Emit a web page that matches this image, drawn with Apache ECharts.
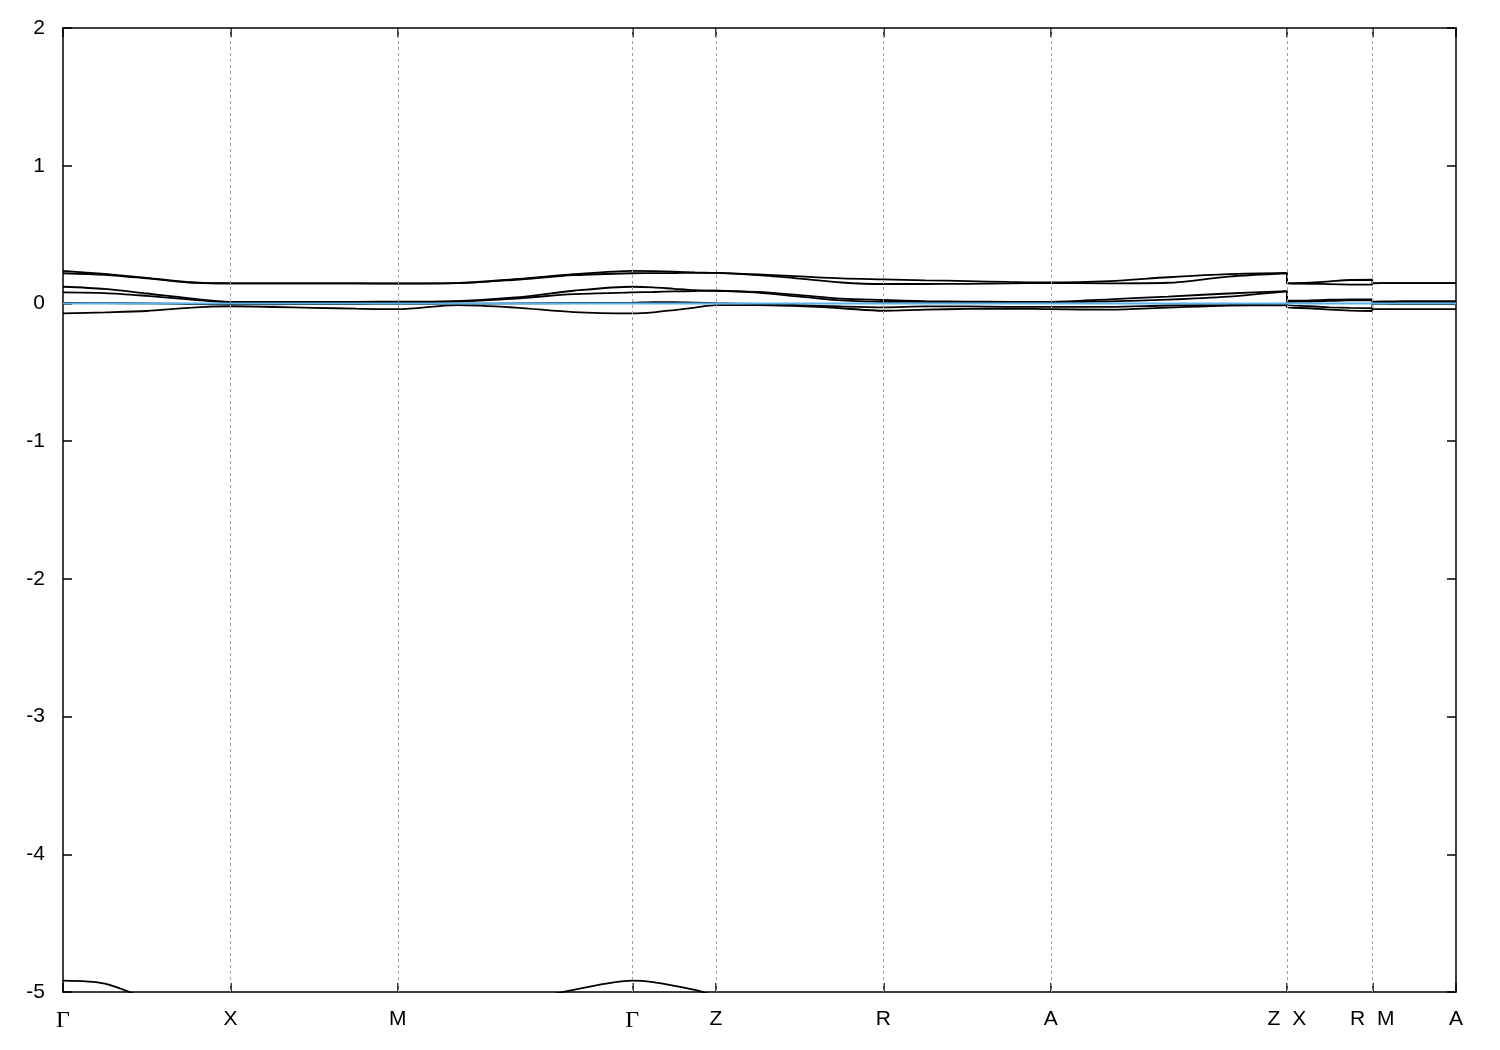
<!DOCTYPE html>
<html>
<head>
<meta charset="utf-8">
<script src="https://cdn.jsdelivr.net/npm/echarts@6/dist/echarts.min.js"></script>
<style>
html,body{margin:0;padding:0;background:#fff;}
#chart{width:1500px;height:1050px;}
</style>
</head>
<body>
<div id="chart"></div>
<script>
// High-symmetry points along the k-path
const kTicks = [0, 1.0, 2.0, 3.4, 3.9, 4.9, 5.9, 7.31, 7.82, 8.32];
const kLabels = ['Γ', 'X', 'M', 'Γ', 'Z', 'R', 'A', 'Z X', 'R M', 'A'];

// k sample positions, one list per path segment
// Γ-X, X-M, M-Γ, Γ-Z, Z-R, R-A, A-Z, X-R, M-A
const kSeg = [
  [0, 0.25, 0.5, 0.75, 1.0],
  [1.0, 1.25, 1.5, 1.75, 2.0],
  [2.0, 2.35, 2.7, 3.05, 3.4],
  [3.4, 3.525, 3.65, 3.775, 3.9],
  [3.9, 4.15, 4.4, 4.65, 4.9],
  [4.9, 5.15, 5.4, 5.65, 5.9],
  [5.9, 6.25, 6.6, 6.96, 7.31],
  [7.31, 7.44, 7.565, 7.69, 7.82],
  [7.82, 7.945, 8.07, 8.195, 8.32]
];

// Band energies (eV) per segment
const bandA = [
  [0.237, 0.214, 0.186, 0.155, 0.146],
  [0.146, 0.146, 0.146, 0.146, 0.146],
  [0.146, 0.148, 0.176, 0.212, 0.237],
  [0.237, 0.235, 0.230, 0.225, 0.222],
  [0.222, 0.210, 0.196, 0.182, 0.175],
  [0.175, 0.168, 0.162, 0.156, 0.152],
  [0.152, 0.162, 0.190, 0.213, 0.222],
  [0.146, 0.150, 0.160, 0.170, 0.172],
  [0.148, 0.148, 0.148, 0.148, 0.148]
];
const bandB = [
  [0.219, 0.208, 0.182, 0.152, 0.146],
  [0.146, 0.145, 0.145, 0.145, 0.144],
  [0.144, 0.147, 0.172, 0.205, 0.219],
  [0.219, 0.220, 0.221, 0.222, 0.222],
  [0.222, 0.205, 0.180, 0.152, 0.141],
  [0.141, 0.141, 0.142, 0.145, 0.148],
  [0.148, 0.146, 0.150, 0.195, 0.219],
  [0.146, 0.143, 0.140, 0.137, 0.136],
  [0.146, 0.147, 0.147, 0.147, 0.147]
];
const bandC = [
  [0.121, 0.105, 0.072, 0.038, 0.012],
  [0.012, 0.012, 0.012, 0.012, 0.013],
  [0.013, 0.017, 0.043, 0.092, 0.121],
  [0.121, 0.117, 0.106, 0.096, 0.092],
  [0.092, 0.084, 0.060, 0.035, 0.025],
  [0.025, 0.016, 0.013, 0.012, 0.012],
  [0.012, 0.030, 0.050, 0.072, 0.090],
  [0.020, 0.022, 0.027, 0.030, 0.030],
  [0.013, 0.015, 0.016, 0.016, 0.016]
];
const bandD = [
  [0.080, 0.075, 0.055, 0.030, 0.008],
  [0.008, 0.008, 0.008, 0.008, 0.008],
  [0.008, 0.014, 0.035, 0.068, 0.080],
  [0.080, 0.083, 0.087, 0.090, 0.092],
  [0.092, 0.078, 0.050, 0.022, 0.012],
  [0.012, 0.012, 0.011, 0.011, 0.011],
  [0.011, 0.015, 0.028, 0.050, 0.088],
  [0.012, 0.014, 0.018, 0.022, 0.022],
  [0.008, 0.010, 0.012, 0.012, 0.012]
];
const bandE = [
  [-0.072, -0.065, -0.055, -0.032, -0.022],
  [-0.022, -0.026, -0.032, -0.038, -0.042],
  [-0.042, -0.012, -0.030, -0.063, -0.072],
  [-0.072, -0.065, -0.048, -0.030, -0.012],
  [-0.012, -0.012, -0.020, -0.035, -0.053],
  [-0.053, -0.045, -0.040, -0.038, -0.042],
  [-0.042, -0.045, -0.030, -0.015, -0.012],
  [-0.028, -0.035, -0.045, -0.052, -0.055],
  [-0.042, -0.042, -0.042, -0.042, -0.042]
];
const bandF = [
  [0.003, 0.002, 0.000, -0.004, -0.008],
  [-0.008, -0.006, -0.005, -0.004, -0.003],
  [-0.003, -0.002, 0.000, 0.003, 0.006],
  [0.006, 0.010, 0.010, 0.006, 0.002],
  [0.002, -0.004, -0.012, -0.022, -0.028],
  [-0.028, -0.022, -0.022, -0.025, -0.025],
  [-0.025, -0.025, -0.015, -0.010, -0.002],
  [-0.012, -0.020, -0.028, -0.033, -0.035],
  [-0.003, -0.004, -0.004, -0.005, -0.005]
];
// Deep band near -5 eV (only the Γ-X, X-M, M-Γ, Γ-Z segments)
const bandG = [
  [-4.918, -4.940, -5.050, -5.150, -5.200],
  [-5.200, -5.300, -5.350, -5.350, -5.300],
  [-5.300, -5.220, -5.080, -4.985, -4.918],
  [-4.918, -4.928, -4.955, -4.985, -5.030]
];
const fermiLevel = 0;

const bands = [bandA, bandB, bandC, bandD, bandE, bandF, bandG];

function toPoints(band) {
  const pts = [];
  band.forEach((seg, s) => {
    seg.forEach((e, i) => pts.push([kSeg[s][i], e]));
  });
  return pts;
}

const kMin = kTicks[0];
const kMax = kTicks[kTicks.length - 1];

const chart = echarts.init(document.getElementById('chart'), null, {renderer: 'canvas'});

function labelFor(v) {
  let idx = 0, best = Infinity;
  kTicks.forEach((t, i) => { const d = Math.abs(t - v); if (d < best) { best = d; idx = i; } });
  const txt = kLabels[idx];
  const parts = txt.split(' ');
  return parts.map(p => p === 'Γ' ? '{g|Γ}' : '{s|' + p + '}').join('{gap|}');
}

const series = [];
// dashed vertical grid lines
series.push({
  type: 'line',
  data: [],
  z: 1,
  silent: true,
  markLine: {
    silent: true,
    symbol: 'none',
    animation: false,
    label: {show: false},
    lineStyle: {color: '#a0a0a0', type: [3, 3], width: 1},
    data: kTicks.slice(1, -1).map(v => ({xAxis: v}))
  }
});
bands.forEach((b, i) => {
  series.push({
    type: 'line',
    name: 'band' + i,
    data: toPoints(b),
    showSymbol: false,
    symbol: 'none',
    smooth: 0.3,
    clip: true,
    z: 2,
    lineStyle: {color: '#000000', width: 1.8},
    animation: false
  });
});
series.push({
  type: 'line',
  name: 'EF',
  data: [[kMin, fermiLevel], [kMax, fermiLevel]],
  showSymbol: false,
  symbol: 'none',
  z: 5,
  lineStyle: {color: '#56b4e9', width: 2},
  animation: false
});

const option = {
  animation: false,
  backgroundColor: '#ffffff',
  grid: {left: 63, right: 44, top: 28, bottom: 58, containLabel: false},
  xAxis: [
    {
      type: 'value', min: kMin, max: kMax, position: 'bottom',
      axisLine: {show: true, onZero: false, lineStyle: {color: '#000', width: 1.5}},
      axisTick: {show: true, inside: true, length: 9, customValues: kTicks, lineStyle: {color: '#000', width: 1.5}},
      axisLabel: {
        show: true, customValues: kTicks, margin: 17, showMinLabel: true, showMaxLabel: true,
        formatter: labelFor,
        rich: {
          g: {fontFamily: 'Liberation Serif', fontSize: 24, color: '#000'},
          s: {fontFamily: 'Liberation Sans', fontSize: 21, color: '#000'},
          gap: {width: 12}
        }
      },
      splitLine: {show: false}
    },
    {
      type: 'value', min: kMin, max: kMax, position: 'top',
      axisLine: {show: true, onZero: false, lineStyle: {color: '#000', width: 1.5}},
      axisTick: {show: true, inside: true, length: 9, customValues: kTicks, lineStyle: {color: '#000', width: 1.5}},
      axisLabel: {show: false},
      splitLine: {show: false}
    }
  ],
  yAxis: [
    {
      type: 'value', min: -5, max: 2, interval: 1, position: 'left',
      axisLine: {show: true, onZero: false, lineStyle: {color: '#000', width: 1.5}},
      axisTick: {show: true, inside: true, length: 9, lineStyle: {color: '#000', width: 1.5}},
      axisLabel: {show: true, margin: 18, fontFamily: 'Liberation Sans', fontSize: 21, color: '#000'},
      splitLine: {show: false}
    },
    {
      type: 'value', min: -5, max: 2, interval: 1, position: 'right',
      axisLine: {show: true, onZero: false, lineStyle: {color: '#000', width: 1.5}},
      axisTick: {show: true, inside: true, length: 9, lineStyle: {color: '#000', width: 1.5}},
      axisLabel: {show: false},
      splitLine: {show: false}
    }
  ],
  series: series
};
chart.setOption(option);
</script>
</body>
</html>
